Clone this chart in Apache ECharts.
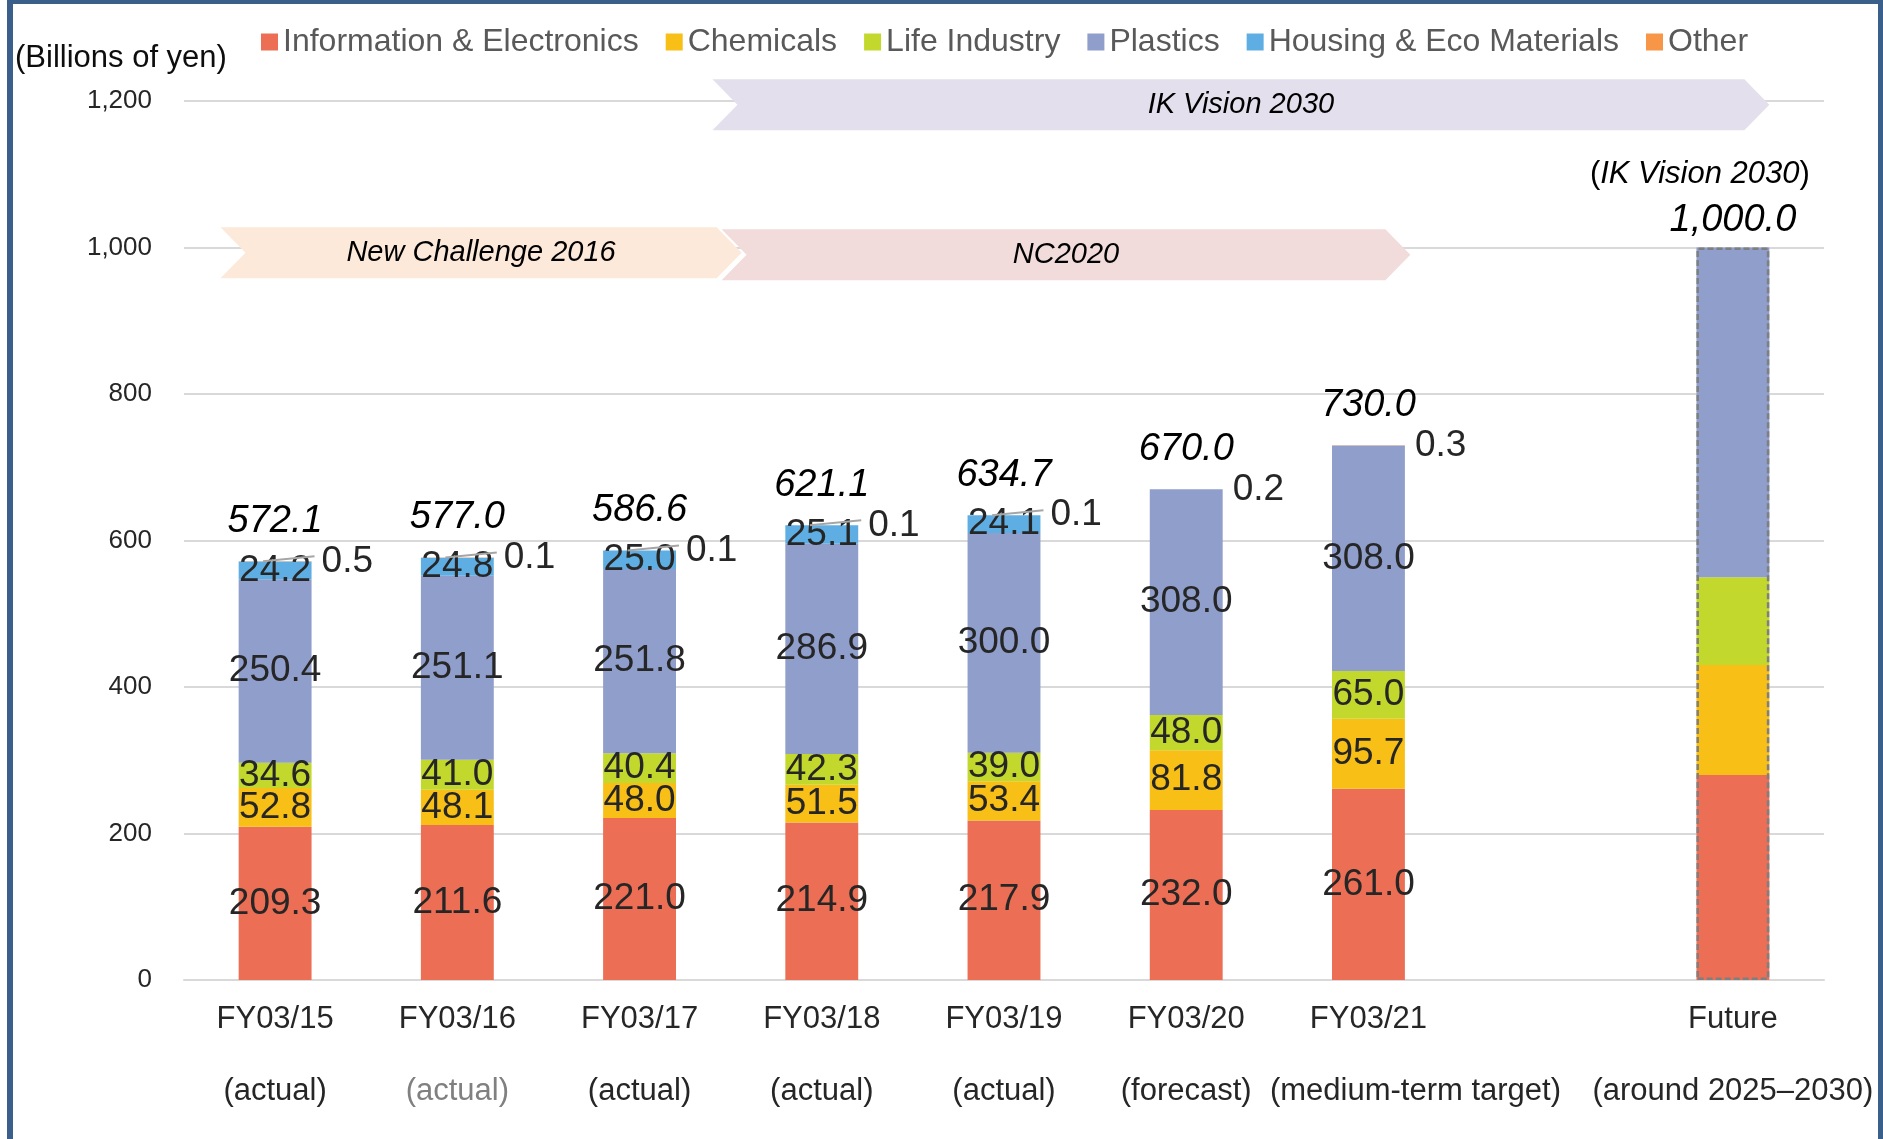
<!DOCTYPE html>
<html>
<head>
<meta charset="utf-8">
<script src="https://cdn.jsdelivr.net/npm/echarts@6/dist/echarts.min.js"></script>
<style>
html,body{margin:0;padding:0;background:#fff;}
#c{width:1883px;height:1139px;}
#frame{position:absolute;left:7px;top:0;width:1876px;height:1139px;box-sizing:border-box;border-top:4px solid #3A5F8B;border-left:6px solid #3A5F8B;border-right:5px solid #3A5F8B;pointer-events:none;}
</style>
</head>
<body>
<div id="c"></div>
<div id="frame"></div>
<script>
// ---- data ----
const categories = ['FY03/15','FY03/16','FY03/17','FY03/18','FY03/19','FY03/20','FY03/21','','Future'];
const categoryNotes = ['(actual)','(actual)','(actual)','(actual)','(actual)','(forecast)','(medium-term target)','','(around 2025\u20132030)'];
const infoElectronics = [209.3, 211.6, 221.0, 214.9, 217.9, 232.0, 261.0, null, 280];
const chemicals       = [52.8, 48.1, 48.0, 51.5, 53.4, 81.8, 95.7, null, 150];
const lifeIndustry    = [34.6, 41.0, 40.4, 42.3, 39.0, 48.0, 65.0, null, 120];
const plastics        = [250.4, 251.1, 251.8, 286.9, 300.0, 308.0, 308.0, null, 450];
const housingEco      = [24.2, 24.8, 25.0, 25.1, 24.1, null, null, null, null];
const other           = [0.5, 0.1, 0.1, 0.1, 0.1, 0.2, 0.3, null, null];
const totals          = [572.1, 577.0, 586.6, 621.1, 634.7, 670.0, 730.0, null, 1000.0];
const yMin = 0, yMax = 1200, yStep = 200;
// plan periods (x in category units, level in billions of yen)
const planNames = ['IK Vision 2030', 'NC2020', 'New Challenge 2016'];
const planStart = [2.40, 2.45, -0.30];
const planEnd   = [8.20, 6.23, 2.56];
const planLevel = [1195, 990, 993];
const futureTitle = 'IK Vision 2030';

// ---- styles ----
const FONT = '"Liberation Sans", Arial, Helvetica, sans-serif';
const seriesNames = ['Information & Electronics','Chemicals','Life Industry','Plastics','Housing & Eco Materials','Other'];
const seriesColors = ['#EB6E55','#F8BF16','#C3D82D','#8F9ECB','#5FAEE3','#F79646'];
const planColors = ['#E4DFEC','#F2DCDB','#FDE9D9'];
const fmt1 = v => Number(v).toLocaleString('en-US',{minimumFractionDigits:1, maximumFractionDigits:1});

const segLabelFmt = p => (p.value == null || categories[p.dataIndex] === 'Future') ? '' : fmt1(p.value);

function stackSeries(idx, values) {
  const isOther = idx === 5;
  return {
    name: seriesNames[idx], type: 'bar', stack: 'total', data: values,
    barWidth: '40%', barGap: '-100%',
    itemStyle: { color: seriesColors[idx] },
    label: {
      show: true, position: isOther ? 'right' : 'inside', distance: 10,
      formatter: segLabelFmt, fontSize: 37, color: '#262626', fontFamily: FONT
    }
  };
}

// cumulative stack top (for leader lines of "Other" labels)
const stackTop = categories.map((c, i) =>
  [infoElectronics, chemicals, lifeIndustry, plastics, housingEco, other].reduce((s, a) => s + (a[i] || 0), 0));
const leaderData = [];
categories.forEach((c, i) => { if (other[i] != null && housingEco[i] != null) leaderData.push([i, stackTop[i]]); });

const chart = echarts.init(document.getElementById('c'), null, { renderer: 'canvas' });

const option = {
  animation: false,
  textStyle: { fontFamily: FONT },
  title: {
    text: '(Billions of yen)', left: 15, top: 40, padding: 0,
    textStyle: { fontSize: 31, fontWeight: 'normal', color: '#0D0D0D', lineHeight: 36, fontFamily: FONT }
  },
  legend: {
    data: seriesNames, left: 261, top: 24, padding: 0,
    icon: 'rect', itemWidth: 17, itemHeight: 17, itemGap: 27,
    textStyle: { fontSize: 32, color: '#595959', lineHeight: 36, fontFamily: FONT }
  },
  grid: { left: 184, right: 59, top: 101, bottom: 159, containLabel: false, outerBoundsMode: 'none' },
  xAxis: [
    {
      type: 'category', data: categories,
      axisTick: { show: false },
      axisLine: { show: true, lineStyle: { color: '#D9D9D9', width: 2 } },
      axisLabel: {
        interval: 0, margin: 3, hideOverlap: false,
        formatter: (val, idx) => {
          if (!val) return '';
          const st = idx === 1 ? 'g' : (idx === 6 ? 'm' : 'b');
          return '{a|' + val + '}\n{' + st + '|' + categoryNotes[idx] + '}';
        },
        rich: {
          a: { fontSize: 31, lineHeight: 72, color: '#262626', fontFamily: FONT },
          b: { fontSize: 31, lineHeight: 72, color: '#262626', fontFamily: FONT },
          g: { fontSize: 31, lineHeight: 72, color: '#808080', fontFamily: FONT },
          m: { fontSize: 31, lineHeight: 72, color: '#262626', fontFamily: FONT, padding: [0, 0, 0, 94] }
        }
      }
    },
    { type: 'value', min: -0.5, max: categories.length - 0.5, show: false }
  ],
  yAxis: {
    type: 'value', min: yMin, max: yMax, interval: yStep,
    axisLine: { show: false }, axisTick: { show: false },
    splitLine: { show: true, lineStyle: { color: '#D9D9D9', width: 2 } },
    axisLabel: {
      margin: 32, fontSize: 26, color: '#262626', fontFamily: FONT,
      formatter: v => Number(v).toLocaleString('en-US')
    }
  },
  series: [
    // plan period chevrons
    {
      type: 'custom', xAxisIndex: 1, yAxisIndex: 0, clip: false, silent: true, z: 1,
      data: planNames.map((n, i) => [planStart[i], planEnd[i], planLevel[i]]),
      renderItem: (params, api) => {
        const a = api.coord([api.value(0), api.value(2)]);
        const b = api.coord([api.value(1), api.value(2)]);
        const h = 25.5, d = 25, y = a[1];
        return {
          type: 'group',
          children: [
            { type: 'polygon',
              shape: { points: [[a[0], y - h], [b[0] - d, y - h], [b[0], y], [b[0] - d, y + h], [a[0], y + h], [a[0] + d, y]] },
              style: { fill: planColors[params.dataIndex] } },
            { type: 'text', x: (a[0] + b[0]) / 2, y: y,
              style: { text: planNames[params.dataIndex], fill: '#000', font: 'italic 29px ' + FONT,
                       align: 'center', verticalAlign: 'middle', textAlign: 'center', textVerticalAlign: 'middle' } }
          ]
        };
      }
    },
    stackSeries(0, infoElectronics),
    stackSeries(1, chemicals),
    stackSeries(2, lifeIndustry),
    stackSeries(3, plastics),
    stackSeries(4, housingEco),
    stackSeries(5, other),
    // totals (and the dashed outline of the future target)
    {
      name: 'Total', type: 'bar', barWidth: '40%', barGap: '-100%', z: 3, silent: true,
      data: totals.map((v, i) => categories[i] === 'Future'
        ? { value: v, itemStyle: { color: 'rgba(0,0,0,0)', borderColor: '#7F7F7F', borderWidth: 2.5, borderType: [6, 3] },
            label: { distance: 5 } }
        : v),
      itemStyle: { color: 'rgba(0,0,0,0)' },
      label: {
        show: true, position: 'top', distance: 18,
        formatter: p => {
          if (p.value == null) return '';
          if (categories[p.dataIndex] === 'Future')
            return '{p|(}{i|' + futureTitle + '}{p|)}{s| }\n{t|' + fmt1(p.value) + '}';
          return '{t|' + fmt1(p.value) + '}';
        },
        rich: {
          t: { fontSize: 38, fontStyle: 'italic', color: '#000', lineHeight: 44, fontFamily: FONT },
          p: { fontSize: 31, color: '#000', lineHeight: 48, fontFamily: FONT },
          i: { fontSize: 31, fontStyle: 'italic', color: '#000', lineHeight: 48, fontFamily: FONT },
          s: { fontSize: 31, width: 66, lineHeight: 48 }
        }
      }
    },
    // leader lines for the tiny "Other" labels
    {
      type: 'custom', xAxisIndex: 1, yAxisIndex: 0, clip: false, silent: true, z: 4,
      data: leaderData,
      renderItem: (params, api) => {
        const p = api.coord([api.value(0), api.value(1)]);
        const half = api.size([1, 0])[0] * 0.2;
        return { type: 'line', shape: { x1: p[0] - 12, y1: p[1], x2: p[0] + half + 3, y2: p[1] - 5 },
                 style: { stroke: '#A6A6A6', lineWidth: 2 } };
      }
    }
  ]
};
chart.setOption(option);
</script>
</body>
</html>
